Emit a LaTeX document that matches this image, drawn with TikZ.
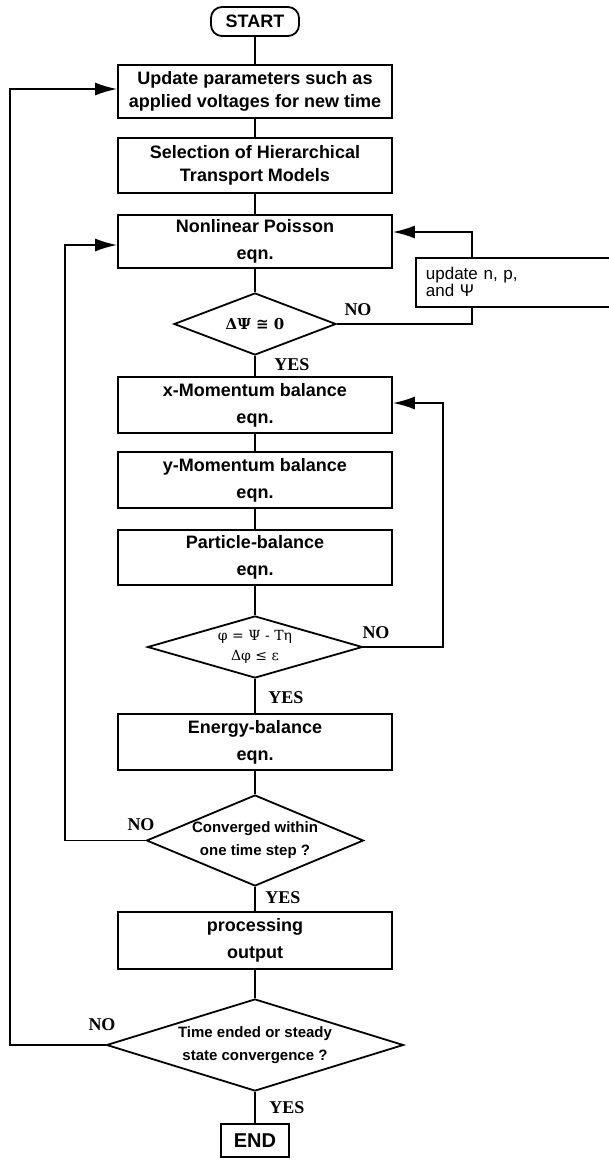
\documentclass[tikz,border=0pt]{standalone}
\usepackage{fontspec}
\setmainfont{Liberation Sans}
\newfontfamily\yesnofont{Liberation Serif}
\newfontfamily\greekfont{DejaVu Serif}
\newfontfamily\relfont{DejaVu Sans}
\usetikzlibrary{
  shapes.geometric,
  arrows.meta,
  positioning,
  calc
}
\tikzset{
termbox/.style={
  draw,
  line width=1.8pt,
  rounded corners=11pt,
  inner sep=0pt,
  font=\fontsize{18}{22}\selectfont\bfseries
},
stepbox/.style={
  draw,
  line width=1.8pt,
  rectangle,
  minimum width=274pt,
  minimum height=55pt,
  inner sep=0pt,
  align=center,
  font=\fontsize{18}{27}\selectfont\bfseries
},
tightbox/.style={
  stepbox,
  font=\fontsize{18}{23}\selectfont\bfseries
},
notebox/.style={
  draw,
  line width=1.8pt,
  minimum height=49pt,
  text width=185pt,
  inner xsep=10pt,
  inner ysep=0pt,
  align=left,
  font=\fontsize{17}{17}\selectfont
},
decision/.style={
  diamond,
  draw,
  line width=1.8pt,
  inner sep=0pt,
  align=center,
  font=\fontsize{15}{23}\selectfont\bfseries
},
yesno/.style={
  font=\fontsize{18}{20}\selectfont\yesnofont\bfseries,
  inner sep=0pt
},
line/.style={
  line width=1.8pt
},
arrow/.style={
  line,
  -{Latex[length=22pt,width=13pt]}
}
}

\begin{document}
\begin{tikzpicture}[x=1pt, y=-1pt]
\useasboundingbox (0,0) rectangle (609,1160);

% ============================================================================
% MAIN CHAIN
% ============================================================================
\node[termbox, minimum width=88pt, minimum height=29pt] (start) at (255,21.5) {START};
\node[tightbox, minimum height=53pt] (update) at (255,91.5) {Update parameters such as\\applied voltages for new time};
\node[tightbox] (select) at (255,165.5) {Selection of Hierarchical\\Transport Models};
\node[stepbox, minimum height=53pt] (poisson) at (255,241.5) {Nonlinear Poisson\\eqn.};
\node[decision, shape aspect=2.61, minimum width=162pt, minimum height=62pt,
      font=\fontsize{15}{20}\selectfont\greekfont\bfseries] (dpsi) at (255,324) {ΔΨ {\relfont ≅} 0};
\node[stepbox, minimum height=56pt] (xmom) at (255,405) {x-Momentum balance\\eqn.};
\node[stepbox, minimum height=56pt] (ymom) at (255,480) {y-Momentum balance\\eqn.};
\node[stepbox] (particle) at (255,557.5) {Particle-balance\\eqn.};
\node[decision, shape aspect=3.47, minimum width=215pt, minimum height=62pt,
      font=\fontsize{14}{20}\selectfont\greekfont] (dphi) at (255,647) {φ = Ψ - Tη\\Δφ ≤ ε};
\node[stepbox, minimum height=56pt] (energy) at (255,742) {Energy-balance\\eqn.};
\node[decision, shape aspect=2.38, minimum width=217pt, minimum height=91pt] (dconv) at (255,840.5) {Converged within\\one time step ?};
\node[stepbox, minimum height=57pt] (output) at (255,940.5) {processing\\output};
\node[decision, shape aspect=3.23, minimum width=297pt, minimum height=92pt] (dtime) at (255,1045) {Time ended or steady\\state convergence ?};
\node[draw, line width=1.8pt, minimum width=68pt, minimum height=33pt, inner sep=0pt,
      font=\fontsize{20}{22}\selectfont\bfseries] (finish) at (255,1140.5) {END};

% side box of the Poisson loop
\node[notebox, anchor=north west] (renew) at (415,257) {update n, p,\\and Ψ};

% loop columns
\coordinate (outerx) at (10,0);
\coordinate (innerx) at (65,0);
\coordinate (rightx) at (443,0);

% ============================================================================
% CONNECTORS
% ============================================================================
\draw[line] (start) -- (update);
\draw[line] (update) -- (select);
\draw[line] (select) -- (poisson);
\draw[line] (poisson) -- (dpsi);
\draw[line] (dpsi) -- (xmom);
\draw[line] (xmom) -- (ymom);
\draw[line] (ymom) -- (particle);
\draw[line] (particle) -- (dphi);
\draw[line] (dphi) -- (energy);
\draw[line] (energy) -- (dconv);
\draw[line] (dconv) -- (output);
\draw[line] (output) -- (dtime);
\draw[line] (dtime) -- (finish);

\draw[line] (dpsi.east) -| ([xshift=57pt]renew.south west);
\draw[arrow] ([xshift=57pt]renew.north west) |- ([yshift=9.5pt]poisson.east);
\draw[arrow] (dphi.east) -- (dphi.east -| rightx) |- ([yshift=2pt]xmom.east);
\draw[arrow] (dconv.west) -- (dconv.west -| innerx) |- ([yshift=-3.5pt]poisson.west);
\draw[arrow] (dtime.west) -- (dtime.west -| outerx) |- ([yshift=2.5pt]update.west);

% ============================================================================
% YES / NO
% ============================================================================
\node[yesno] (no1) at (358,310) {NO};
\node[yesno] (yes1) at (292,364.5) {YES};
\node[yesno] (no2) at (376,632.5) {NO};
\node[yesno] (yes2) at (286,697.5) {YES};
\node[yesno] (no3) at (141,825) {NO};
\node[yesno] (yes3) at (283,897.5) {YES};
\node[yesno] (no4) at (102,1025) {NO};
\node[yesno] (yes4) at (287,1107.5) {YES};

\end{tikzpicture}
\end{document}
